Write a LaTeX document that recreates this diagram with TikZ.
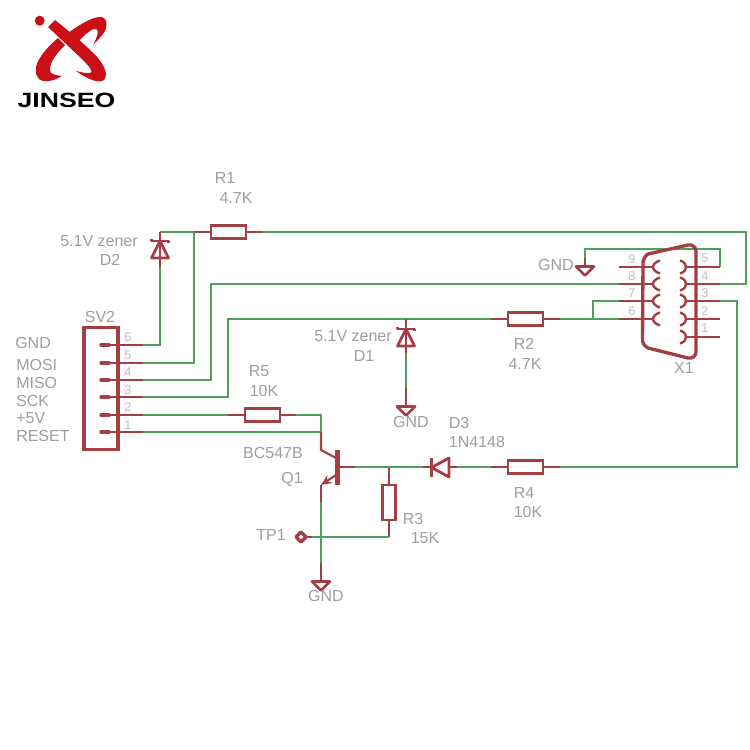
\documentclass[tikz,border=0pt]{standalone}
\usepackage{fontspec}
\setmainfont{Liberation Sans}
\usetikzlibrary{arrows.meta}
\definecolor{wirecol}{RGB}{78,162,88}
\definecolor{partcol}{RGB}{163,62,68}
\definecolor{txtcol}{RGB}{158,158,158}
\definecolor{numcol}{RGB}{190,190,190}
\definecolor{logored}{RGB}{200,16,22}
\tikzset{
  wire/.style={draw=wirecol,line width=1.6pt,line join=miter},
  part/.style={draw=partcol,line width=1.6pt},
  thick part/.style={draw=partcol,line width=2.5pt,line join=round},
  resbox/.style={rectangle,draw=partcol,line width=2.2pt,inner sep=0pt,minimum width=26.25pt,minimum height=9.75pt},
  resboxv/.style={resbox,minimum width=9.75pt,minimum height=26.25pt},
  txt/.style={text=txtcol,font=\fontsize{12}{14}\selectfont,inner sep=0pt},
  num/.style={text=numcol,font=\fontsize{9.5}{11}\selectfont,inner sep=0pt},
  gnd/.pic={\draw[thick part,line width=2.1pt] (-9,0) -- (9,0) -- (0,-9) -- cycle;},
  zener/.pic={\draw[thick part,line width=2.1pt] (-8.5,-9) -- (8.5,-9) -- (0,8) -- cycle;
    \draw[thick part,line width=2.1pt] (-8.5,10) -- (-8.5,8) -- (8.5,8) -- (8.5,6);},
}
\begin{document}
\begin{tikzpicture}[x=0.75pt,y=0.75pt,yscale=-1,xscale=1]
\useasboundingbox (0,0) rectangle (750,750);

% logo
\fill[logored] (39.7,20.7) circle (5);
\fill[logored] (48,27) -- (55,20) .. controls (70,32) and (88,47) .. (97,57) .. controls (104,65) and (108,74) .. (105,79) .. controls (101,84) and (90,81) .. (76,71) .. controls (84,73) and (90,74) .. (91.5,72) .. controls (92,70) and (88,65) .. (82,59) -- cycle;
\fill[logored] (58,38) -- (65,45) .. controls (56,54) and (50,62) .. (50,70) .. controls (50,74) and (54,75) .. (62,76) .. controls (54,81) and (44,83) .. (39,79) .. controls (34,74) and (35,65) .. (40,58) .. controls (44,51) and (51,44) .. (58,38) -- cycle;
\fill[logored] (68,33) .. controls (79,25) and (92,17) .. (100,17) .. controls (107,17) and (108,24) .. (105,31) .. controls (102,36) and (97,41) .. (93,45) .. controls (97,38) and (99,32) .. (97,29.5) .. controls (94,27) and (87,32) .. (78,42) -- cycle;
\node[font=\bfseries\fontsize{15.5}{18}\selectfont,xscale=1.29,inner sep=0pt,text=black] (logotext) at (66.5,100) {JINSEO};

% SV2
\node[rectangle,draw=partcol,line width=2.5pt,minimum width=25.5pt,minimum height=91.5pt,inner sep=0pt] (SV2) at (101,388.5) {};
\foreach \n/\y/\numy in {6/345/337,5/363/355,4/380/372,3/397/390,2/415/407,1/432/425}{
  \draw[thick part,line cap=round] (101,\y) -- (109,\y);
  \draw[part] (109,\y) -- (143,\y);
  \node[num] (svnum\n) at (128,\numy) {\n};
}
\node[txt] (SV2name) at (100,317) {SV2};
\node[txt,anchor=west] (lblgnd) at (15,342.5) {GND};
\node[txt,anchor=west] (lblmosi) at (16,365) {MOSI};
\node[txt,anchor=west] (lblmiso) at (16,383) {MISO};
\node[txt,anchor=west] (lblsck) at (16,400.5) {SCK};
\node[txt,anchor=west] (lblvcc) at (16,418) {+5V};
\node[txt,anchor=west] (lblreset) at (16,436) {RESET};

% resistors
\node[resbox] (R1) at (228.5,232) {};
\node[resbox] (R2) at (525.5,319) {};
\node[resbox] (R4) at (525.5,467) {};
\node[resbox] (R5) at (262.5,415) {};
\node[resboxv] (R3) at (389,502.5) {};
\draw[part] (194,232) -- (R1.west);
\draw[part] (R1.east) -- (262,232);
\draw[part] (491,319) -- (R2.west);
\draw[part] (R2.east) -- (560,319);
\draw[part] (491,467) -- (R4.west);
\draw[part] (R4.east) -- (560,467);
\draw[part] (228,415) -- (R5.west);
\draw[part] (R5.east) -- (296,415);
\draw[part] (389,467) -- (R3.north);
\draw[part] (R3.south) -- (389,537);

% wires
\draw[wire] (143,345) -- (160,345) -- (160,267);
\draw[wire] (160,232) -- (194,232);
\draw[wire] (143,363) -- (194,363) -- (194,232);
\draw[wire] (262,232) -- (746,232) -- (746,284) -- (720,284);
\draw[wire] (143,380) -- (211,380) -- (211,284) -- (619,284);
\draw[wire] (143,397) -- (228,397) -- (228,319) -- (491,319);
\draw[wire] (560,319) -- (619,319);
\draw[wire] (593,319) -- (593,301) -- (619,301);
\draw[wire] (720,267) -- (720,249) -- (585,249) -- (585,258);
\draw[wire] (720,301) -- (737,301) -- (737,467) -- (560,467);
\draw[wire] (143,415) -- (228,415);
\draw[wire] (296,415) -- (321,415) -- (321,432);
\draw[wire] (143,432) -- (321,432);
\draw[wire] (406,353) -- (406,388);
\draw[wire] (355,467) -- (423,467);
\draw[wire] (457,467) -- (491,467);
\draw[wire] (321,502) -- (321,563);
\draw[wire] (389,537) -- (312,537);

% zeners, ground symbols
\draw[part] (160,267) -- (160,232);
\path (160,249) pic {zener};
\draw[part] (406,319) -- (406,353);
\path (406,337) pic {zener};
\draw[part] (406,388) -- (406,406);
\path (406,406.5) pic {gnd};
\draw[part] (321,563) -- (321,581);
\path (321,581.5) pic {gnd};
\draw[part] (585,258) -- (585,266);
\path (585,266.5) pic {gnd};

% Q1
\draw[part] (321,432) -- (321,450) -- (336,458);
\draw[thick part,line width=3.6pt,line cap=butt] (337.5,450) -- (337.5,485);
\draw[part,-{Stealth[length=8pt,width=7pt]}] (336,475) -- (321,485);
\draw[part] (321,485) -- (321,502);
\draw[part] (340,467) -- (355,467);

% D3
\draw[thick part,line width=2.1pt] (431.5,458) -- (431.5,477);
\draw[thick part,line width=2.1pt] (449,458) -- (449,477) -- (431.5,467.5) -- cycle;
\draw[part] (423,467) -- (431.5,467);
\draw[part] (449,467) -- (457,467);

% TP1
\coordinate (TP1) at (301,537);
\draw[thick part,line width=2.4pt] (296,537) -- (301,532) -- (306,537) -- (301,542) -- cycle;
\draw[part] (306,537) -- (312,537);

% X1
\draw[thick part] (643,262) .. controls (644,258) and (646,255) .. (648,254) -- (688,245) .. controls (692,244) and (696,247) .. (696,251) -- (696,352) .. controls (696,356) and (692,359) .. (688,358) -- (648,348) .. controls (645,347) and (643,344) .. (642.5,341) -- cycle;
\foreach \y/\n in {267/9,284/8,301/7,319/6}{
  \draw[part] (619,\y) -- (653,\y);
  \draw[part,line width=1.8pt] (660,\y-6.5) .. controls (655,\y-5) and (653,\y-2) .. (653,\y) .. controls (653,\y+2) and (655,\y+5) .. (660,\y+6.5);
}
\foreach \y/\n in {267/5,284/4,301/3,319/2,337/1}{
  \draw[part] (686,\y) -- (720,\y);
  \draw[part,line width=1.8pt] (680,\y-6.5) .. controls (685,\y-5) and (686,\y-2) .. (686,\y) .. controls (686,\y+2) and (685,\y+5) .. (680,\y+6.5);
}
\foreach \n/\y in {9/259,8/276,7/293,6/311}{\node[num] (xnum\n) at (632,\y) {\n};}
\foreach \n/\y in {5/258,4/276,3/293,2/311,1/328}{\node[num] (xnum\n) at (705,\y) {\n};}

% Text Node
\node[txt] (R1name) at (225,178) {R1};
\node[txt] (R1val) at (236,198) {4.7K};
\node[txt] (D2val) at (99,241) {5.1V zener};
\node[txt] (D2name) at (110,260) {D2};
\node[txt] (D1val) at (353,336.5) {5.1V zener};
\node[txt] (D1name) at (364,356) {D1};
\node[txt] (R2name) at (524,344) {R2};
\node[txt] (R2val) at (525,364) {4.7K};
\node[txt] (R5name) at (259,371) {R5};
\node[txt] (R5val) at (264,391) {10K};
\node[txt] (Q1val) at (273,453) {BC547B};
\node[txt] (Q1name) at (292,479) {Q1};
\node[txt] (D3name) at (459,423) {D3};
\node[txt] (D3val) at (477,442) {1N4148};
\node[txt] (R4name) at (524,493) {R4};
\node[txt] (R4val) at (528,512) {10K};
\node[txt] (R3name) at (413,519) {R3};
\node[txt] (R3val) at (425,538) {15K};
\node[txt] (TP1name) at (271,535) {TP1};
\node[txt] (gndb) at (326,596) {GND};
\node[txt] (gndm) at (411,422) {GND};
\node[txt] (gndr) at (556,265) {GND};
\node[txt] (X1name) at (684,368) {X1};
\end{tikzpicture}
\end{document}
